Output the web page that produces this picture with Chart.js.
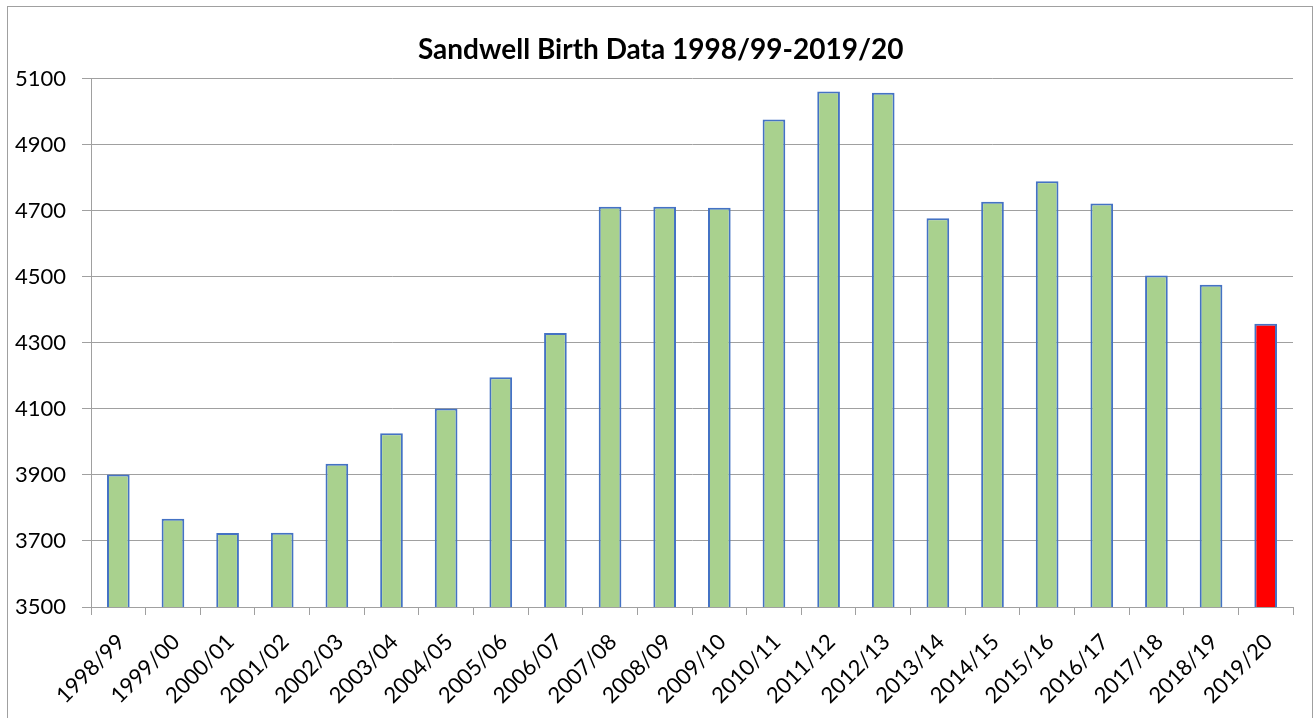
<!DOCTYPE html>
<html>
<head>
<meta charset="utf-8">
<script src="https://cdn.jsdelivr.net/npm/chart.js@4.4.1/dist/chart.umd.min.js"></script>
<style>
  html, body { margin: 0; padding: 0; background: #ffffff; }
  #wrap { width: 1314px; height: 718px; }
</style>
</head>
<body>
<div id="wrap"><canvas id="birthChart" width="1314" height="718"></canvas></div>
<script>
// ===== DATA =====
const years = ['1998/99', '1999/00', '2000/01', '2001/02', '2002/03', '2003/04', '2004/05', '2005/06',
               '2006/07', '2007/08', '2008/09', '2009/10', '2010/11', '2011/12', '2012/13', '2013/14',
               '2014/15', '2015/16', '2016/17', '2017/18', '2018/19', '2019/20'];
const births = [3901, 3767, 3724, 3725, 3934, 4026, 4101, 4196, 4330, 4712, 4712,
                4709, 4976, 5061, 5057, 4677, 4727, 4789, 4722, 4504, 4476, 4358];
const highlightYear = '2019/20';
const yMin = 3500;
const yMax = 5100;
const yStep = 200;

// ===== STYLE =====
const GREEN = '#a9d18e';
const RED = '#ff0000';
const BLUE = '#4472c4';
const GREY = '#a0a0a0';
const FONT = 'Lato, "Open Sans", sans-serif';

const PAD_LEFT = 8;
const PLOT_LEFT = 91;
const PLOT_RIGHT = 1293;
const PLOT_BOTTOM = 607;

// white background + thin grey frame around the chart
const chartFrame = {
    id: 'chartFrame',
    beforeDraw(chart) {
        const ctx = chart.ctx;
        ctx.save();
        ctx.fillStyle = '#ffffff';
        ctx.fillRect(0, 0, chart.width, chart.height);
        ctx.strokeStyle = GREY;
        ctx.lineWidth = 1;
        ctx.strokeRect(7.5, 6.5, 1305, 740);
        ctx.restore();
    }
};

const barColors = years.map(y => y === highlightYear ? RED : GREEN);

const ctx = document.getElementById('birthChart');
new Chart(ctx, {
    type: 'bar',
    data: {
        labels: years,
        datasets: [{
            label: 'Births',
            data: births,
            backgroundColor: barColors,
            borderColor: BLUE,
            borderWidth: 2,
            borderSkipped: false,
            barPercentage: 0.415,
            categoryPercentage: 1.0
        }]
    },
    options: {
        responsive: false,
        animation: false,
        devicePixelRatio: 1,
        layout: {
            padding: { left: PAD_LEFT, right: 1314 - PLOT_RIGHT, top: 0, bottom: 0 }
        },
        plugins: {
            legend: { display: false },
            tooltip: { enabled: false },
            title: {
                display: true,
                // leading spaces nudge the centred title right, like the original
                text: '   Sandwell Birth Data 1998/99-2019/20',
                color: '#000000',
                font: { family: FONT, size: 28, weight: 'bold' },
                padding: { top: 33, bottom: 12 }
            }
        },
        scales: {
            x: {
                grid: {
                    drawOnChartArea: false,
                    drawTicks: true,
                    tickLength: 8,
                    color: GREY,
                    offset: true
                },
                border: { color: GREY, width: 1 },
                ticks: {
                    autoSkip: false,
                    minRotation: 45,
                    maxRotation: 45,
                    padding: 14,
                    labelOffset: 3,
                    color: '#000000',
                    font: { family: FONT, size: 22 }
                },
                afterFit(scale) {
                    scale.height = 718 - PLOT_BOTTOM;
                }
            },
            y: {
                min: yMin,
                max: yMax,
                ticks: {
                    stepSize: yStep,
                    padding: 16,
                    color: '#000000',
                    font: { family: FONT, size: 22 },
                    callback: value => String(value)
                },
                grid: {
                    color: GREY,
                    tickLength: 9
                },
                border: { color: GREY, width: 1 },
                afterFit(scale) {
                    scale.width = PLOT_LEFT - PAD_LEFT;
                }
            }
        }
    },
    plugins: [chartFrame]
});
</script>
</body>
</html>
